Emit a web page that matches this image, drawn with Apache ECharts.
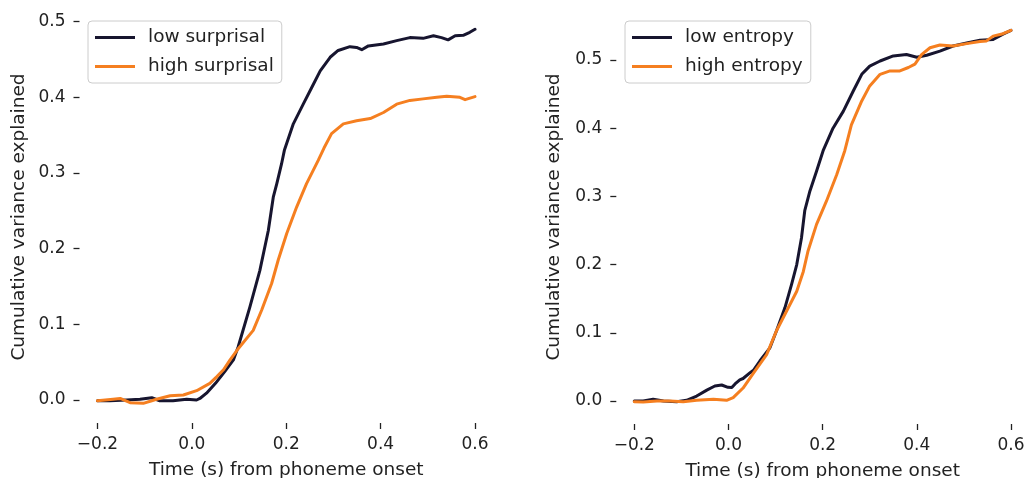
<!DOCTYPE html>
<html>
<head>
<meta charset="utf-8">
<script src="https://cdn.jsdelivr.net/npm/echarts@6/dist/echarts.min.js"></script>
<style>
html,body{margin:0;padding:0;background:#fff;}
#chart{width:1026px;height:478px;}
</style>
</head>
<body>
<div id="chart"></div>
<script>
// ---- data (time in s, cumulative variance explained) ----
const xTicks = [-0.2, 0.0, 0.2, 0.4, 0.6];
const yTicks = [0.0, 0.1, 0.2, 0.3, 0.4, 0.5];

const lowSurprisalT = [-0.200,-0.174,-0.138,-0.110,-0.085,-0.068,-0.040,-0.011,0.010,0.017,0.031,0.050,0.070,0.088,0.098,0.123,0.144,0.162,0.1725,0.180,0.190,0.196,0.215,0.236,0.254,0.272,0.293,0.310,0.335,0.349,0.360,0.374,0.406,0.434,0.462,0.490,0.512,0.529,0.543,0.558,0.575,0.589,0.600];
const lowSurprisalV = [-0.001,-0.001,0.000,0.001,0.003,-0.001,-0.001,0.001,0.000,0.002,0.009,0.022,0.038,0.053,0.070,0.123,0.171,0.224,0.268,0.286,0.312,0.330,0.365,0.391,0.413,0.435,0.453,0.462,0.467,0.466,0.463,0.468,0.4705,0.475,0.479,0.478,0.4815,0.479,0.476,0.4815,0.482,0.486,0.490];

const highSurprisalT = [-0.200,-0.167,-0.152,-0.131,-0.103,-0.085,-0.075,-0.046,-0.018,0.010,0.038,0.053,0.067,0.081,0.096,0.130,0.148,0.169,0.183,0.201,0.222,0.243,0.268,0.280,0.296,0.321,0.349,0.378,0.406,0.434,0.462,0.490,0.519,0.540,0.568,0.579,0.600];
const highSurprisalV = [-0.001,0.001,0.002,-0.0035,-0.0044,-0.001,0.001,0.0057,0.0066,0.0123,0.022,0.031,0.040,0.053,0.066,0.092,0.119,0.154,0.185,0.220,0.255,0.286,0.317,0.333,0.352,0.365,0.369,0.372,0.380,0.391,0.396,0.398,0.400,0.4015,0.400,0.397,0.401];

const lowEntropyT = [-0.200,-0.181,-0.160,-0.138,-0.110,-0.089,-0.0675,-0.046,-0.029,-0.0145,-0.001,0.007,0.014,0.024,0.031,0.046,0.053,0.067,0.088,0.102,0.120,0.134,0.145,0.155,0.162,0.173,0.187,0.201,0.222,0.244,0.265,0.283,0.300,0.322,0.350,0.378,0.400,0.421,0.449,0.477,0.506,0.534,0.562,0.583,0.600];
const lowEntropyV = [0.000,0.000,0.0025,0.000,-0.001,0.001,0.0073,0.016,0.022,0.0235,0.020,0.0197,0.025,0.031,0.033,0.0415,0.045,0.059,0.078,0.103,0.137,0.171,0.200,0.239,0.279,0.308,0.337,0.367,0.400,0.425,0.4545,0.479,0.491,0.4985,0.506,0.508,0.504,0.507,0.513,0.5205,0.525,0.529,0.530,0.538,0.5435];

const highEntropyT = [-0.200,-0.181,-0.152,-0.124,-0.096,-0.0675,-0.032,-0.004,0.010,0.031,0.053,0.081,0.102,0.1235,0.145,0.159,0.169,0.187,0.208,0.230,0.247,0.261,0.283,0.300,0.322,0.343,0.364,0.382,0.396,0.410,0.428,0.449,0.477,0.506,0.534,0.548,0.562,0.583,0.600];
const highEntropyV = [-0.001,-0.0015,0.000,0.000,-0.001,0.001,0.0025,0.001,0.005,0.019,0.041,0.068,0.103,0.132,0.161,0.190,0.220,0.259,0.293,0.332,0.367,0.405,0.440,0.462,0.479,0.484,0.484,0.489,0.494,0.508,0.518,0.522,0.5205,0.524,0.527,0.528,0.535,0.5386,0.5435];

const seriesNames = ['low surprisal','high surprisal','low entropy','high entropy'];
const xLabel = 'Time (s) from phoneme onset';
const yLabel = 'Cumulative variance explained';

// ---- styles ----
const DARK = '#17152f';
const ORANGE = '#f57f20';
const TXT = '#222222';
const FONT = 'DejaVu Sans';

function pairs(t, v){ return t.map((x,i)=>[x, v[i]]); }
function fmt(v){
  const s = Math.abs(v).toFixed(1);
  return v < -1e-9 ? '\u2212' + s : s;
}

const grids = [
  {left: 97.5, top: 21.7, width: 377.5, height: 378.3, outerBoundsMode:'none', containLabel:false},
  {left: 634.3, top: 60, width: 376.7, height: 341, outerBoundsMode:'none', containLabel:false}
];

function xAxisCfg(idx){
  return {
    type:'value', gridIndex: idx, min: xTicks[0], max: xTicks[xTicks.length-1], interval: 0.2,
    offset: 23,
    axisLine:{show:false, onZero:false},
    axisTick:{show:true, length:6, lineStyle:{color:TXT, width:1.3}},
    splitLine:{show:false},
    axisLabel:{color:TXT, fontFamily:FONT, fontSize:17, margin:13, formatter: fmt},
    name: xLabel, nameLocation:'middle', nameGap: 38,
    nameTextStyle:{color:TXT, fontFamily:FONT, fontSize:18.5}
  };
}
function yAxisCfg(idx){
  return {
    type:'value', gridIndex: idx, min: yTicks[0], max: yTicks[yTicks.length-1], interval: 0.1,
    offset: 18,
    axisLine:{show:false, onZero:false},
    axisTick:{show:true, length:6, lineStyle:{color:TXT, width:1.3}},
    splitLine:{show:false},
    axisLabel:{color:TXT, fontFamily:FONT, fontSize:17, margin:14, formatter: fmt}
  };
}
function lineSeries(name, data, color, idx){
  return {
    name, type:'line', xAxisIndex: idx, yAxisIndex: idx, data,
    symbol:'none', showSymbol:false, clip:false, animation:false,
    lineStyle:{color, width:3, join:'round', cap:'round'}, itemStyle:{color}
  };
}
function legendCfg(names, left){
  return {
    data: names, orient:'vertical', left: left, top: 21,
    icon:'rect', itemWidth: 40, itemHeight: 3, itemGap: 10,
    padding:[7,8,7,7],
    backgroundColor:'rgba(255,255,255,0.8)', borderColor:'#cccccc', borderWidth:1, borderRadius:4,
    textStyle:{color:TXT, fontFamily:FONT, fontSize:18.5, padding:[0,0,0,8]},
    selectedMode:false
  };
}

const chart = echarts.init(document.getElementById('chart'), null, {renderer:'canvas'});
chart.setOption({
  animation:false,
  backgroundColor:'#ffffff',
  grid: grids,
  xAxis: [xAxisCfg(0), xAxisCfg(1)],
  yAxis: [yAxisCfg(0), yAxisCfg(1)],
  legend: [legendCfg([seriesNames[0], seriesNames[1]], 88), legendCfg([seriesNames[2], seriesNames[3]], 625)],
  series: [
    lineSeries(seriesNames[0], pairs(lowSurprisalT, lowSurprisalV), DARK, 0),
    lineSeries(seriesNames[1], pairs(highSurprisalT, highSurprisalV), ORANGE, 0),
    lineSeries(seriesNames[2], pairs(lowEntropyT, lowEntropyV), DARK, 1),
    lineSeries(seriesNames[3], pairs(highEntropyT, highEntropyV), ORANGE, 1)
  ],
  graphic: [
    {type:'text', x:19, y:217, rotation:Math.PI/2, style:{text:yLabel, fill:TXT, font:'18.5px "DejaVu Sans"', align:'center', verticalAlign:'middle'}},
    {type:'text', x:554, y:217, rotation:Math.PI/2, style:{text:yLabel, fill:TXT, font:'18.5px "DejaVu Sans"', align:'center', verticalAlign:'middle'}}
  ]
});
</script>
</body>
</html>
